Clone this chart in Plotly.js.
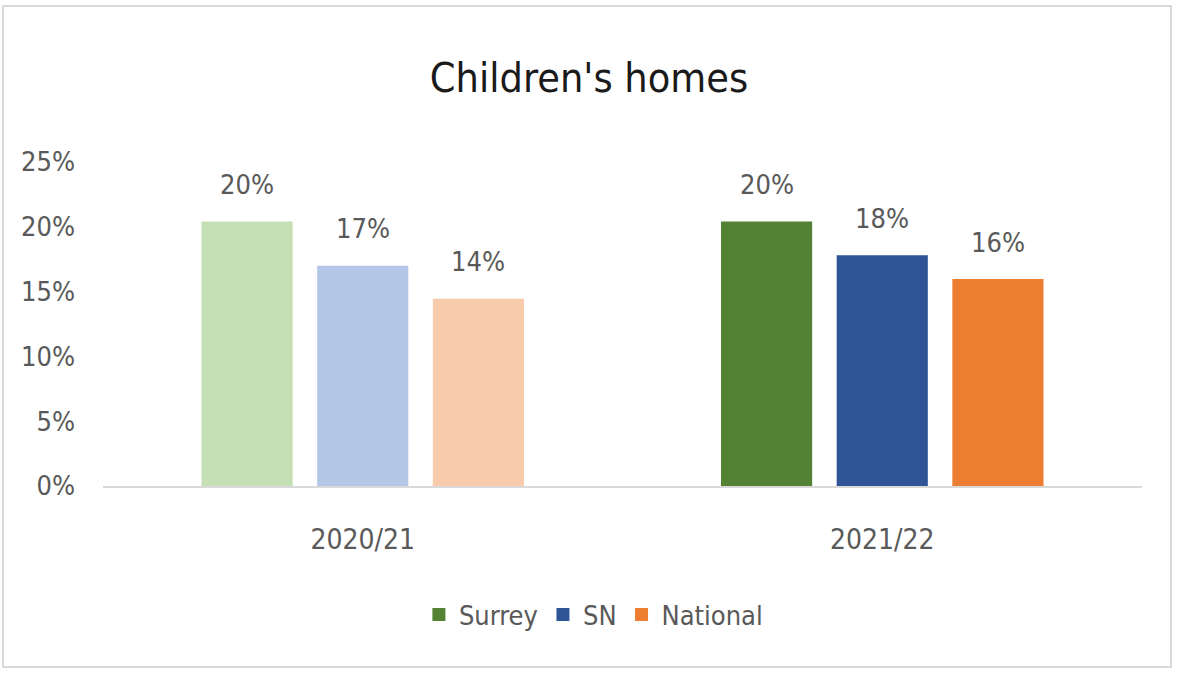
<!DOCTYPE html>
<html>
<head>
<meta charset="utf-8">
<script src="https://cdn.plot.ly/plotly-3.0.1.min.js"></script>
<style>
  html, body { margin: 0; padding: 0; background: #ffffff; }
  #frame { position: absolute; left: 2px; top: 5px; width: 1170px; height: 663px; border: 2px solid #d9d9d9; box-sizing: border-box; }
  #chart { position: absolute; left: 0; top: 0; width: 1178px; height: 675px; }
</style>
</head>
<body>
<div id="frame"></div>
<div id="chart"></div>
<script>
// ---- data ----
const categories = ['2020/21', '2021/22'];
const seriesNames = ['Surrey', 'SN', 'National'];
const surrey = [20.4, 20.4];
const sn = [17.0, 17.8];
const national = [14.45, 15.97];
const yTickVals = [0, 5, 10, 15, 20, 25];
const yTickText = ['0%', '5%', '10%', '15%', '20%', '25%'];

// ---- styles ----
const fullColors = ['#548235', '#2F5597', '#ED7D31'];
const lightColors = ['#C5E0B4', '#B4C7E7', '#F8CBAD'];
const FONT = '"Liberation Sans Narrow", "DejaVu Sans Condensed", Arial, sans-serif';
const TXT = '#595959';
const slotShift = [-115.5, 0, 115.5];

const values = [surrey, sn, national];
const traces = values.map((vals, i) => ({
  type: 'bar',
  name: seriesNames[i],
  x: categories,
  y: vals,
  marker: { color: [lightColors[i], fullColors[i]] },
  showlegend: false,
  hoverinfo: 'skip'
}));

// legend entries (full colours)
seriesNames.forEach((n, i) => {
  traces.push({
    type: 'scatter',
    mode: 'markers',
    name: n,
    x: [categories[0]],
    y: [null],
    marker: { symbol: 'square', size: 13, color: fullColors[i] },
    showlegend: true,
    hoverinfo: 'skip'
  });
});

// data labels built from the data arrays
const annotations = [];
values.forEach((vals, i) => {
  vals.forEach((v, j) => {
    annotations.push({
      x: categories[j], y: v, xref: 'x', yref: 'y',
      text: Math.round(v) + '%',
      showarrow: false,
      xshift: slotShift[i],
      yshift: 37,
      yanchor: 'middle',
      font: { family: FONT, size: 27, color: TXT }
    });
  });
});

const layout = {
  width: 1178,
  height: 675,
  margin: { l: 103, r: 36, t: 162, b: 189 },
  paper_bgcolor: 'rgba(0,0,0,0)',
  plot_bgcolor: 'rgba(0,0,0,0)',
  font: { family: FONT, color: TXT, size: 27 },
  title: {
    text: "Children's homes",
    font: { family: FONT, size: 41, color: '#1a1a1a' },
    x: 0.5, xanchor: 'center',
    y: 0.885, yanchor: 'middle'
  },
  barmode: 'group',
  bargap: 0.332,
  bargroupgap: 0.212,
  xaxis: {
    type: 'category',
    showline: true,
    linecolor: '#d9d9d9',
    linewidth: 2,
    ticks: '',
    showgrid: false,
    tickfont: { family: FONT, size: 28, color: TXT },
    ticklabelstandoff: 27
  },
  yaxis: {
    range: [0, 25],
    tickvals: yTickVals,
    ticktext: yTickText,
    showgrid: false,
    zeroline: false,
    showline: false,
    ticks: '',
    tickfont: { family: FONT, size: 27, color: TXT },
    ticklabelstandoff: 27
  },
  legend: {
    orientation: 'h',
    x: 0.472, xanchor: 'center',
    y: -0.398, yanchor: 'middle',
    font: { family: FONT, size: 27, color: TXT },
    itemwidth: 30,
    tracegroupgap: 0
  },
  annotations: annotations,
  showlegend: true
};

Plotly.newPlot('chart', traces, layout, { displayModeBar: false, staticPlot: true });
</script>
</body>
</html>
